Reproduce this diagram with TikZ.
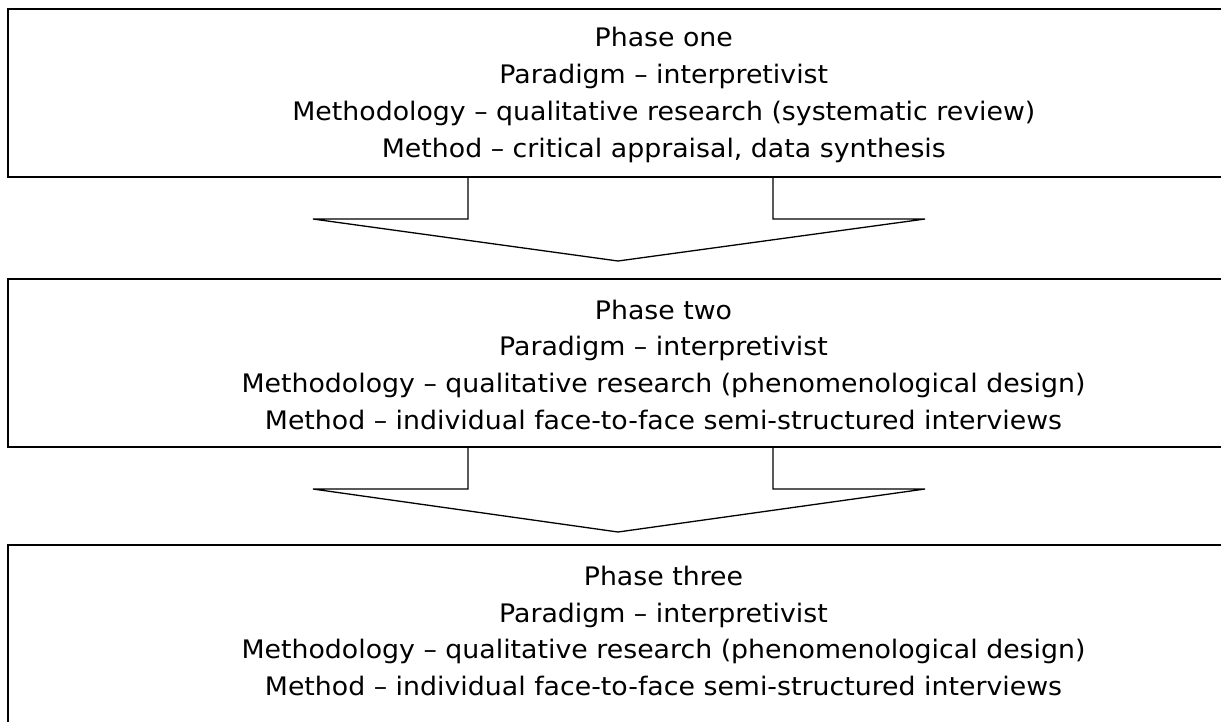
\documentclass[tikz,border=0pt]{standalone}
\usepackage{fontspec}
\setmainfont{DejaVu Sans}[FakeStretch=1.05]
\begin{document}
\begin{tikzpicture}[x=1pt,y=-1pt,
  phasebox/.style={draw=black, line width=2pt, rectangle, inner sep=0pt,
    minimum width=1312pt, minimum height=168pt},
  phasetext/.style={align=center, inner sep=0pt, text=black,
    font=\fontsize{25.5}{36.8}\selectfont},
  blockarrow/.style={draw=black, line width=1.3pt, line join=miter}]
\useasboundingbox (0,0) rectangle (1221,721);
\clip (0,0) rectangle (1221,721);

% phase boxes
\node[phasebox] (b1) at (664,93) {};
\node[phasebox] (b2) at (664,363) {};
\node[phasebox, minimum height=200pt] (b3) at (664,645) {};

% phase descriptions
\node[phasetext] (t1) at (663.8,95.1) {Phase one\\Paradigm – interpretivist\\Methodology – qualitative research (systematic review)\\Method – critical appraisal, data synthesis};
\node[phasetext] (t2) at (663.5,364.8) {Phase two\\Paradigm – interpretivist\\Methodology – qualitative research (phenomenological design)\\Method – individual face-to-face semi-structured interviews};
\node[phasetext] (t3) at (663.5,631) {Phase three\\Paradigm – interpretivist\\Methodology – qualitative research (phenomenological design)\\Method – individual face-to-face semi-structured interviews};

% block arrows between phases
\coordinate (tip1) at (618,261);
\coordinate (tip2) at (618,532);
\draw[blockarrow] (468,0 |- b1.south) -- (468,219) -- (313,219) -- (tip1)
  -- (925,219) -- (773,219) -- (773,0 |- b1.south);
\draw[blockarrow] (468,0 |- b2.south) -- (468,489) -- (313,489) -- (tip2)
  -- (925,489) -- (773,489) -- (773,0 |- b2.south);
\end{tikzpicture}
\end{document}
